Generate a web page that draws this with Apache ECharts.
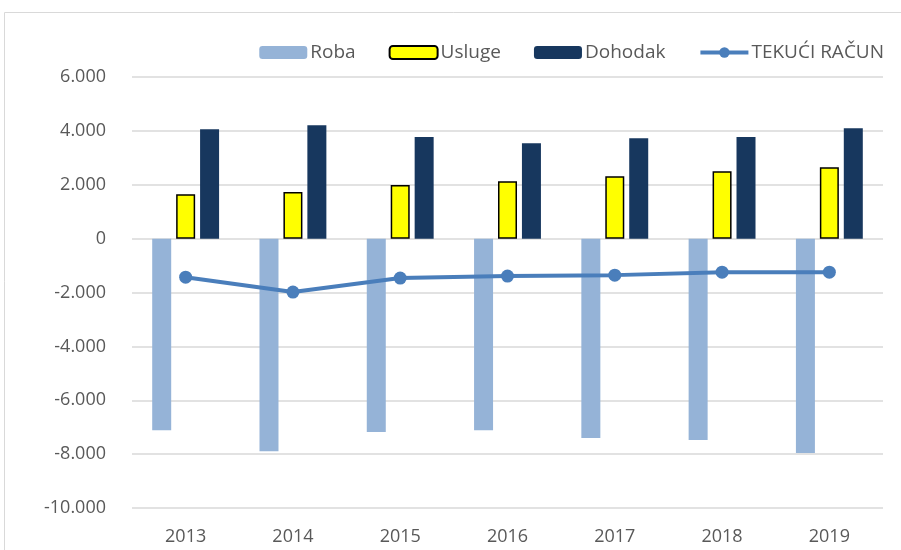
<!DOCTYPE html>
<html>
<head>
<meta charset="utf-8">
<script src="https://cdn.jsdelivr.net/npm/echarts@6/dist/echarts.min.js"></script>
<style>
  html, body { margin: 0; padding: 0; background: #fff; }
  #chart { width: 901px; height: 550px; }
</style>
</head>
<body>
<div id="chart"></div>
<script>
/* podaci platnog bilansa, u mil. */
var godine = ['2013', '2014', '2015', '2016', '2017', '2018', '2019'];
var roba = [-7110, -7890, -7180, -7110, -7400, -7480, -7960];
var usluge = [1650, 1730, 1990, 2130, 2320, 2500, 2650];
var dohodak = [4060, 4210, 3770, 3545, 3730, 3770, 4100];
var tekuciRacun = [-1430, -1985, -1465, -1390, -1355, -1245, -1245];

function fmtBroj(v) {
	var s = String(Math.abs(v)).replace(/\B(?=(\d{3})+(?!\d))/g, '.');
	return (v < 0 ? '-' : '') + s;
}

var chart = echarts.init(document.getElementById('chart'));
var option = {
	animation: false,
	textStyle: { fontFamily: 'Open Sans' },
	graphic: [
		{
			type: 'rect',
			shape: { x: 4.5, y: 12.5, width: 920, height: 560 },
			style: { fill: 'none', stroke: '#d9d9d9', lineWidth: 1 },
			silent: true
		}
	],
	legend: {
		right: 12,
		top: 38,
		itemWidth: 48,
		itemHeight: 13,
		itemGap: 33,
		textStyle: { fontSize: 19, color: '#595959', padding: [0, 0, 0, -2] },
		data: [
			'Roba',
			'Usluge',
			'Dohodak',
			{ name: 'TEKUĆI RAČUN', lineStyle: { width: 4 } }
		]
	},
	grid: {
		left: 132,
		right: 18,
		top: 77,
		bottom: 42
	},
	xAxis: {
		type: 'category',
		data: godine,
		axisLine: { show: false, onZero: false },
		axisTick: { show: false },
		axisLabel: { fontSize: 18, color: '#595959', margin: 20 }
	},
	yAxis: {
		type: 'value',
		min: -10000,
		max: 6000,
		interval: 2000,
		axisLine: { show: false },
		axisTick: { show: false },
		axisLabel: {
			fontSize: 18,
			color: '#595959',
			margin: 26,
			formatter: function (v) { return fmtBroj(v); }
		},
		splitLine: { lineStyle: { color: '#d9d9d9', width: 1.5 } }
	},
	series: [
		{
			name: 'Roba',
			type: 'bar',
			data: roba,
			barWidth: 19,
			barGap: '26%',
			itemStyle: { color: '#95b3d7' }
		},
		{
			name: 'Usluge',
			type: 'bar',
			data: usluge,
			barWidth: 19,
			barGap: '26%',
			itemStyle: { color: '#ffff00', borderColor: '#000', borderWidth: 1.5 }
		},
		{
			name: 'Dohodak',
			type: 'bar',
			data: dohodak,
			barWidth: 19,
			barGap: '26%',
			itemStyle: { color: '#17375e' }
		},
		{
			name: 'TEKUĆI RAČUN',
			type: 'line',
			data: tekuciRacun,
			symbol: 'circle',
			symbolSize: 13,
			lineStyle: { color: '#4a7ebb', width: 4 },
			itemStyle: { color: '#4a7ebb' }
		}
	]
};
chart.setOption(option);
</script>
</body>
</html>
